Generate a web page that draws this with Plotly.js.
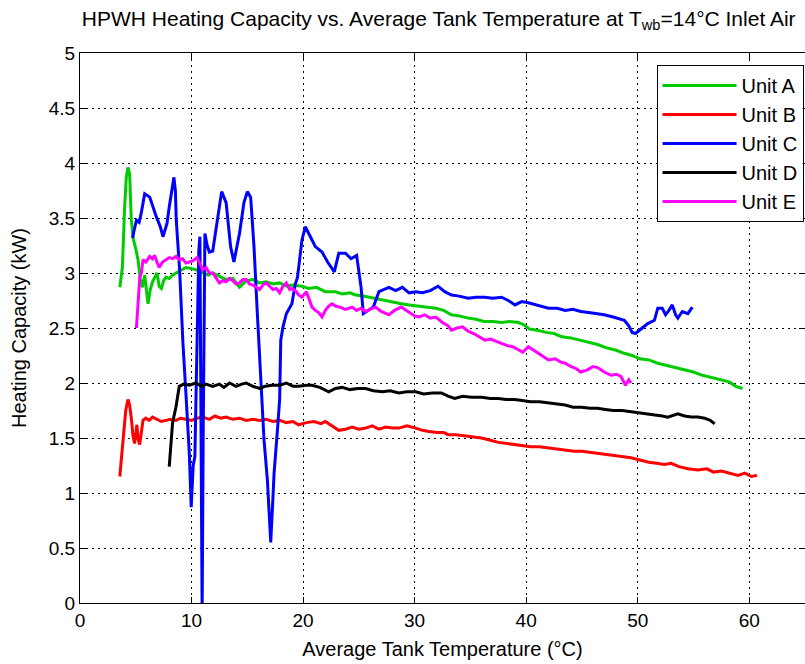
<!DOCTYPE html>
<html>
<head>
<meta charset="utf-8">
<script src="https://cdn.plot.ly/plotly-3.0.1.min.js"></script>
<style>html,body{margin:0;padding:0;background:#fff;}#chart{width:805px;height:664px;}</style>
</head>
<body>
<div id="chart"></div>
<script>
const seriesNames = ["Unit A", "Unit B", "Unit C", "Unit D", "Unit E"];

const unitA_x = [3.57,3.8,4.0,4.15,4.3,4.45,4.6,4.8,5.0,5.2,5.4,5.6,5.8,6.0,6.1,6.3,6.5,6.7,6.9,7.1,7.3,7.5,7.7,8.0,8.3,8.6,9.0,9.5,10.0,10.4,11.0,11.5,11.9,12.5,13.1,13.7,14.3,14.9,15.5,16.1,16.7,17.3,17.9,18.5,19.0,19.9,20.5,21.2,22.0,22.9,23.5,24.2,24.7,25.4,25.9,26.6,27.2,27.9,28.8,29.5,30.2,31.0,31.9,32.6,33.3,34.0,34.8,35.5,36.2,37.0,37.8,38.5,39.3,39.8,40.3,41.0,41.8,42.5,43.2,44.0,44.8,45.6,46.4,47.2,48.0,48.8,49.5,50.2,51.0,51.8,52.6,53.4,54.2,55.0,55.8,56.6,57.4,58.2,58.8,59.4];
const unitA_y = [2.87,3.05,3.6,3.87,3.96,3.9,3.48,3.3,3.22,3.12,2.95,2.87,2.98,2.78,2.72,2.85,2.92,2.96,3.0,2.88,2.86,2.93,2.96,2.95,2.98,3.0,3.02,3.05,3.04,3.03,3.0,2.98,3.0,2.97,2.94,2.95,2.87,2.93,2.94,2.91,2.92,2.9,2.91,2.88,2.89,2.88,2.86,2.87,2.83,2.83,2.81,2.82,2.8,2.79,2.78,2.76,2.75,2.74,2.72,2.71,2.70,2.69,2.68,2.66,2.62,2.61,2.59,2.58,2.56,2.56,2.55,2.56,2.55,2.53,2.49,2.48,2.46,2.45,2.42,2.41,2.39,2.37,2.35,2.32,2.30,2.27,2.25,2.22,2.21,2.18,2.16,2.14,2.12,2.10,2.07,2.05,2.03,2.01,1.97,1.95];

const unitB_x = [3.57,3.7,3.9,4.1,4.3,4.45,4.6,4.75,4.9,5.0,5.1,5.2,5.35,5.5,5.65,5.9,6.2,6.5,6.9,7.3,7.7,8.1,8.6,9.0,9.5,10.0,10.5,11.0,11.6,12.1,12.6,13.1,13.7,14.3,14.9,15.5,16.1,16.7,17.3,17.9,18.5,19.1,19.6,20.3,21.0,21.6,22.0,22.6,23.2,23.8,24.4,25.0,25.6,26.2,26.8,27.4,28.0,28.6,29.3,30.1,30.7,31.3,32.0,32.6,33.0,33.7,34.4,35.2,36.0,36.8,37.5,38.3,39.0,39.8,40.4,41.2,42.0,42.8,43.5,44.3,45.0,45.7,46.4,47.2,48.0,48.7,49.4,50.2,51.0,51.7,52.4,53.0,53.7,54.5,55.4,56.2,56.8,57.5,58.3,59.0,59.6,60.2,60.7];
const unitB_y = [1.15,1.3,1.55,1.75,1.85,1.8,1.68,1.52,1.45,1.56,1.62,1.5,1.44,1.55,1.66,1.68,1.66,1.69,1.67,1.65,1.66,1.67,1.66,1.68,1.67,1.66,1.68,1.69,1.67,1.70,1.68,1.69,1.67,1.68,1.66,1.67,1.66,1.67,1.65,1.66,1.64,1.65,1.62,1.64,1.65,1.63,1.65,1.61,1.57,1.58,1.60,1.58,1.59,1.61,1.58,1.60,1.59,1.59,1.61,1.59,1.57,1.56,1.55,1.55,1.53,1.53,1.52,1.51,1.50,1.48,1.46,1.45,1.44,1.43,1.42,1.42,1.41,1.40,1.39,1.38,1.38,1.37,1.36,1.35,1.34,1.33,1.32,1.30,1.28,1.27,1.26,1.27,1.24,1.22,1.21,1.22,1.19,1.20,1.18,1.16,1.18,1.15,1.16];

const unitC_x = [4.7,4.9,5.06,5.3,5.5,5.8,6.25,6.85,7.2,7.44,7.6,7.8,8.0,8.18,8.42,8.55,8.63,8.93,9.1,9.23,9.5,9.8,9.97,10.15,10.3,10.45,10.65,10.75,10.85,10.95,11.05,11.2,11.4,11.6,11.9,12.3,12.7,13.1,13.5,13.8,14.3,14.7,15.0,15.3,15.6,15.9,16.2,16.5,16.8,17.0,17.1,17.3,17.4,17.7,17.9,18.0,18.2,18.5,19.0,19.3,19.5,19.9,20.2,20.7,21.1,21.7,22.2,22.8,23.2,23.8,24.3,24.8,25.0,25.2,25.4,25.9,26.3,26.8,27.2,27.7,28.3,28.9,29.5,30.1,30.7,31.4,32.1,32.7,33.3,34.0,34.8,35.5,36.3,37.0,37.8,38.4,39.0,39.6,40.2,41.0,42.0,42.8,43.5,44.2,44.9,45.6,46.3,47.0,47.8,48.4,48.8,49.2,49.5,49.8,50.3,50.9,51.5,51.8,52.2,52.5,52.8,53.1,53.4,53.6,54.0,54.5,54.9];
const unitC_y = [3.32,3.42,3.48,3.46,3.55,3.72,3.69,3.51,3.42,3.33,3.38,3.45,3.6,3.72,3.87,3.75,3.48,3.03,2.6,2.36,1.9,1.36,0.87,1.25,1.33,2.2,3.2,3.33,1.2,-0.1,1.6,3.36,3.25,3.19,3.2,3.48,3.74,3.64,3.24,3.1,3.36,3.64,3.74,3.69,3.24,2.63,2.03,1.48,1.12,0.8,0.55,0.96,1.18,1.57,1.85,2.39,2.51,2.63,2.72,2.9,2.96,3.3,3.42,3.32,3.24,3.19,3.1,3.01,3.18,3.18,3.13,3.16,3.0,2.87,2.63,2.66,2.69,2.83,2.85,2.87,2.84,2.87,2.82,2.83,2.82,2.84,2.88,2.83,2.80,2.79,2.77,2.78,2.78,2.77,2.78,2.75,2.71,2.74,2.73,2.71,2.68,2.68,2.66,2.67,2.65,2.64,2.63,2.62,2.60,2.58,2.57,2.52,2.46,2.45,2.49,2.54,2.57,2.68,2.68,2.62,2.66,2.71,2.62,2.59,2.65,2.63,2.69];

const unitD_x = [8.0,8.05,8.3,8.6,8.9,9.3,9.8,10.4,10.9,11.3,11.9,12.5,12.9,13.4,14.0,14.5,14.9,15.5,16.1,16.6,17.2,17.9,18.5,19.1,19.6,20.3,20.8,21.5,22.3,22.9,23.5,24.2,24.9,25.6,26.3,27.1,27.8,28.6,29.3,30.1,30.8,31.6,32.4,33.0,33.6,34.3,35.1,36.0,36.8,37.5,38.2,39.0,39.7,40.4,41.2,42.0,42.8,43.5,44.2,45.0,45.7,46.4,47.1,47.8,48.6,49.4,50.1,50.9,51.7,52.2,52.7,53.2,53.6,54.2,54.8,55.4,56.0,56.5,56.9];
const unitD_y = [1.24,1.32,1.64,1.78,1.97,1.99,1.98,2.00,1.97,1.99,1.97,1.99,1.96,2.00,1.97,1.99,2.00,1.97,1.95,1.97,1.98,1.98,2.00,1.97,1.97,1.98,1.98,1.96,1.92,1.95,1.96,1.94,1.95,1.95,1.93,1.92,1.93,1.91,1.92,1.92,1.90,1.91,1.91,1.88,1.86,1.88,1.87,1.87,1.86,1.86,1.85,1.85,1.84,1.83,1.83,1.82,1.81,1.80,1.78,1.78,1.77,1.77,1.76,1.75,1.75,1.74,1.73,1.72,1.71,1.70,1.69,1.71,1.72,1.70,1.69,1.69,1.68,1.66,1.63];

const unitE_x = [5.06,5.2,5.36,5.5,5.65,5.9,6.25,6.5,6.7,6.9,7.1,7.4,7.7,8.0,8.3,8.6,8.9,9.2,9.5,9.8,10.1,10.5,10.8,11.0,11.3,11.6,11.9,12.2,12.5,12.8,13.1,13.4,13.7,14.0,14.3,14.6,14.9,15.2,15.5,15.8,16.1,16.4,16.7,17.0,17.3,17.6,17.9,18.2,18.5,18.8,19.0,19.3,19.6,19.9,20.3,20.8,21.1,21.4,21.7,22.0,22.3,22.6,22.9,23.3,23.8,24.4,24.8,25.2,25.6,26.0,26.5,27.0,27.7,28.2,28.8,29.4,30.0,30.4,30.9,31.4,31.9,32.5,33.0,33.3,33.8,34.3,34.8,35.3,35.8,36.3,36.8,37.3,37.8,38.3,38.8,39.3,39.7,40.2,40.8,41.4,42.0,42.6,43.1,43.5,44.0,44.5,44.9,45.5,46.0,46.4,47.0,47.6,48.1,48.5,48.9,49.2,49.4];
const unitE_y = [2.5,2.69,2.96,3.0,3.12,3.1,3.15,3.13,3.16,3.1,3.05,3.1,3.12,3.14,3.13,3.15,3.12,3.13,3.09,3.10,3.11,3.14,3.07,3.03,3.05,3.0,3.0,2.96,2.91,2.93,2.92,2.95,2.93,2.90,2.91,2.94,2.94,2.90,2.89,2.87,2.85,2.89,2.91,2.88,2.85,2.86,2.82,2.88,2.91,2.85,2.86,2.84,2.80,2.78,2.83,2.69,2.66,2.64,2.60,2.66,2.70,2.72,2.70,2.69,2.67,2.69,2.66,2.68,2.65,2.67,2.69,2.65,2.62,2.66,2.69,2.65,2.61,2.60,2.62,2.59,2.60,2.55,2.52,2.48,2.50,2.51,2.47,2.45,2.42,2.39,2.40,2.38,2.36,2.34,2.33,2.30,2.28,2.33,2.29,2.25,2.21,2.22,2.19,2.18,2.15,2.13,2.10,2.12,2.15,2.14,2.10,2.07,2.08,2.06,1.98,2.03,2.00];

const xTickVals = [0,10,20,30,40,50,60];
const yTickVals = [0,0.5,1,1.5,2,2.5,3,3.5,4,4.5,5];
const yTickText = ["0","0.5","1","1.5","2","2.5","3","3.5","4","4.5","5"];

const colors = ["#00cc00", "#ff0000", "#0000ff", "#000000", "#ff00ff"];
const xs = [unitA_x, unitB_x, unitC_x, unitD_x, unitE_x];
const ys = [unitA_y, unitB_y, unitC_y, unitD_y, unitE_y];

const FONT = "Liberation Sans, Arial, Helvetica, sans-serif";

const traces = seriesNames.map((name, i) => ({
  type: "scatter",
  mode: "lines",
  name: name,
  x: xs[i],
  y: ys[i],
  line: {color: colors[i], width: 3}
}));

const axisCommon = {
  showline: true, linecolor: "#000", linewidth: 1, mirror: "ticks",
  ticks: "inside", ticklen: 6, tickcolor: "#000",
  showgrid: true, gridcolor: "#000", gridwidth: 1, griddash: "1.5px,4.5px",
  zeroline: false,
  tickfont: {family: FONT, size: 19, color: "#000"}
};

const layout = {
  width: 805, height: 664,
  margin: {l: 80, r: 0, t: 53, b: 61},
  paper_bgcolor: "#fff", plot_bgcolor: "#fff",
  font: {family: FONT, color: "#000"},
  title: {
    text: "HPWH Heating Capacity vs. Average Tank Temperature at T<sub>wb</sub>=14°C Inlet Air",
    font: {family: FONT, size: 21, color: "#000"},
    x: 0.545, xanchor: "center", y: 0.972, yanchor: "middle", yref: "container"
  },
  xaxis: Object.assign({}, axisCommon, {
    range: [0, 65], tickvals: xTickVals, ticktext: xTickVals.map(String),
    title: {text: "Average Tank Temperature (°C)", font: {family: FONT, size: 20, color: "#000"}, standoff: 12}
  }),
  yaxis: Object.assign({}, axisCommon, {
    range: [0, 5], tickvals: yTickVals, ticktext: yTickText,
    title: {text: "Heating Capacity (kW)", font: {family: FONT, size: 20, color: "#000"}, standoff: 16}
  }),
  showlegend: true,
  legend: {
    x: 0.998, xanchor: "right", y: 0.978, yanchor: "top",
    bgcolor: "#fff", bordercolor: "#000", borderwidth: 1,
    font: {family: FONT, size: 20, color: "#000"},
    itemwidth: 74, tracegroupgap: 0
  }
};

Plotly.newPlot("chart", traces, layout, {staticPlot: true, displayModeBar: false});
</script>
</body>
</html>
